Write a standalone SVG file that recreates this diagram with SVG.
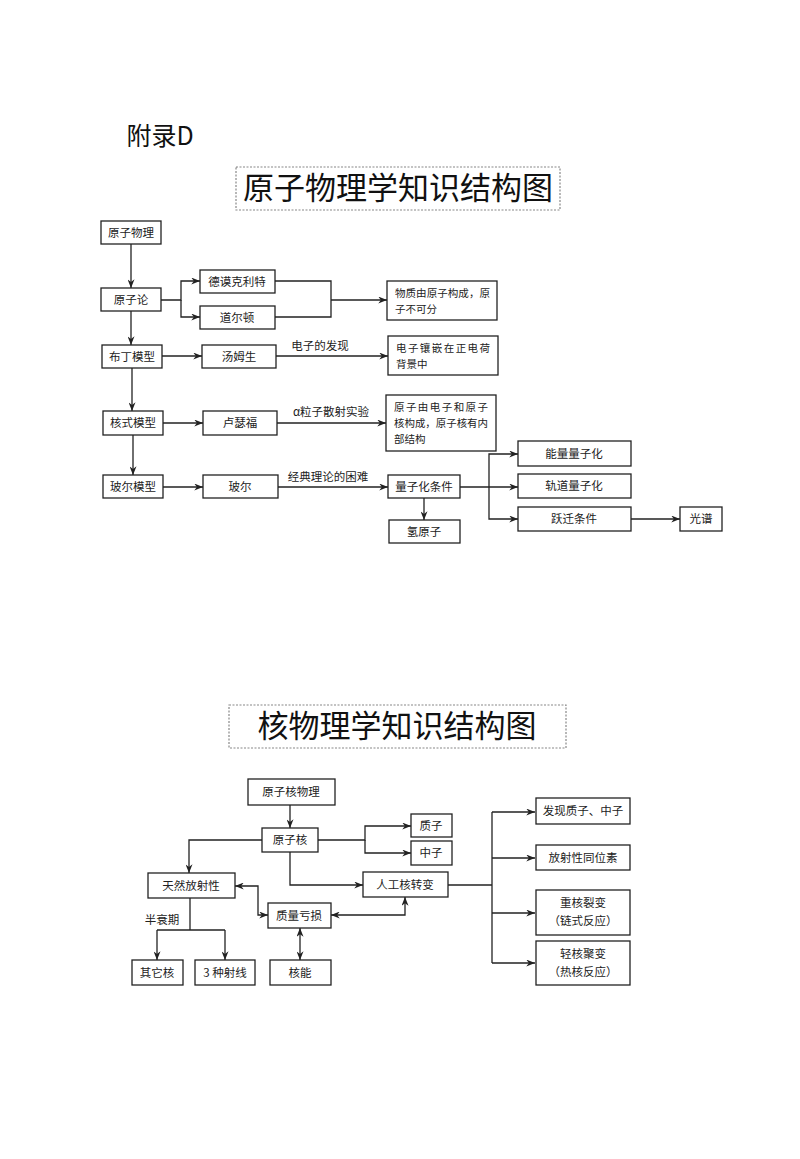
<svg xmlns="http://www.w3.org/2000/svg" width="800" height="1159" viewBox="0 0 800 1159">
<style>
rect.n{fill:#fff;stroke:#222;stroke-width:1.3}
text{font-family:"Noto Sans CJK SC","Liberation Sans",sans-serif;font-size:11.5px;fill:#222;text-anchor:middle}
text.s{text-anchor:start;font-size:10.5px}
.l{fill:none;stroke:#222;stroke-width:1.3}
.t{font-size:31px;fill:#111}
rect.tb{fill:none;stroke:#888;stroke-width:1.2;stroke-dasharray:2 1.5}
</style>
<defs>
<marker id="a" viewBox="0 0 10 8" refX="10" refY="4" markerWidth="9" markerHeight="7" orient="auto-start-reverse" markerUnits="userSpaceOnUse"><path d="M0,0 L10,4 L0,8 L3,4z" fill="#222"/></marker>
</defs>
<rect width="800" height="1159" fill="#fff"/>
<text x="160" y="145" style="font-size:25px;text-anchor:middle;fill:#111">附录D</text>
<rect class="tb" x="236" y="167" width="324" height="43"/>
<text class="t" x="398" y="199">原子物理学知识结构图</text>
<rect class="tb" x="229" y="705" width="337" height="43"/>
<text class="t" x="397" y="737">核物理学知识结构图</text>

<g id="connectors">
<path class="l" d="M131,244V288" marker-end="url(#a)"/>
<path class="l" d="M131,311V345" marker-end="url(#a)"/>
<path class="l" d="M132,368V411" marker-end="url(#a)"/>
<path class="l" d="M133,435V475" marker-end="url(#a)"/>
<path class="l" d="M161,300H181V281H200" marker-end="url(#a)"/>
<path class="l" d="M181,300V317H200" marker-end="url(#a)"/>
<path class="l" d="M275,281H331V317H275"/>
<path class="l" d="M331,300H387" marker-end="url(#a)"/>
<path class="l" d="M162,356H202" marker-end="url(#a)"/>
<path class="l" d="M276,356H388" marker-end="url(#a)"/>
<path class="l" d="M163,423H203" marker-end="url(#a)"/>
<path class="l" d="M277,423H386" marker-end="url(#a)"/>
<path class="l" d="M163,487H203" marker-end="url(#a)"/>
<path class="l" d="M278,487H388" marker-end="url(#a)"/>
<path class="l" d="M424,498V520" marker-end="url(#a)"/>
<path class="l" d="M460,487H518" marker-end="url(#a)"/>
<path class="l" d="M489,487V454H518" marker-end="url(#a)"/>
<path class="l" d="M489,487V519H518" marker-end="url(#a)"/>
<path class="l" d="M631,519H680" marker-end="url(#a)"/>

<path class="l" d="M290,805V828" marker-end="url(#a)"/>
<path class="l" d="M318,840H365V826H411" marker-end="url(#a)"/>
<path class="l" d="M365,840V853H411" marker-end="url(#a)"/>
<path class="l" d="M262,840H189V873" marker-end="url(#a)"/>
<path class="l" d="M290,852V885H363" marker-end="url(#a)"/>
<path class="l" d="M448,885H492"/>
<path class="l" d="M492,812V963"/>
<path class="l" d="M492,812H535" marker-end="url(#a)"/>
<path class="l" d="M492,858H535" marker-end="url(#a)"/>
<path class="l" d="M492,913H535" marker-end="url(#a)"/>
<path class="l" d="M492,963H535" marker-end="url(#a)"/>
<path class="l" d="M235,886H258V915H268" marker-start="url(#a)" marker-end="url(#a)"/>
<path class="l" d="M331,915H405V897" marker-start="url(#a)" marker-end="url(#a)"/>
<path class="l" d="M300,928V960" marker-start="url(#a)" marker-end="url(#a)"/>
<path class="l" d="M190,898V930"/>
<path class="l" d="M157,930H225"/>
<path class="l" d="M157,930V960" marker-end="url(#a)"/>
<path class="l" d="M225,930V960" marker-end="url(#a)"/>
<text x="320" y="350">电子的发现</text>
<text x="331" y="416">α粒子散射实验</text>
<text x="328" y="481">经典理论的困难</text>
<text x="162" y="924">半衰期</text>
</g>

<g id="n1"><rect class="n" x="101" y="221" width="60" height="23"/><text x="131" y="237">原子物理</text></g>
<g id="n2"><rect class="n" x="101" y="288" width="60" height="23"/><text x="131" y="304">原子论</text></g>
<g id="n3"><rect class="n" x="200" y="270" width="75" height="23"/><text x="237" y="286">德谟克利特</text></g>
<g id="n4"><rect class="n" x="200" y="306" width="75" height="23"/><text x="237" y="322">道尔顿</text></g>
<g id="n5"><rect class="n" x="387" y="281" width="110" height="39"/><text class="s" x="395" y="297" textLength="95" lengthAdjust="spacingAndGlyphs">物质由原子构成，原</text><text class="s" x="395" y="313">子不可分</text></g>
<g id="n6"><rect class="n" x="102" y="345" width="60" height="23"/><text x="132" y="361">布丁模型</text></g>
<g id="n7"><rect class="n" x="202" y="345" width="74" height="23"/><text x="239" y="361">汤姆生</text></g>
<g id="n8"><rect class="n" x="388" y="336" width="110" height="39"/><text class="s" x="396" y="352" textLength="94">电子镶嵌在正电荷</text><text class="s" x="396" y="368">背景中</text></g>
<g id="n9"><rect class="n" x="103" y="411" width="60" height="24"/><text x="133" y="427">核式模型</text></g>
<g id="n10"><rect class="n" x="203" y="411" width="74" height="24"/><text x="240" y="427">卢瑟福</text></g>
<g id="n11"><rect class="n" x="386" y="395" width="110" height="56"/><text class="s" x="394" y="411" textLength="94">原子由电子和原子</text><text class="s" x="394" y="427" textLength="94" lengthAdjust="spacingAndGlyphs">核构成，原子核有内</text><text class="s" x="394" y="443">部结构</text></g>
<g id="n12"><rect class="n" x="103" y="475" width="60" height="23"/><text x="133" y="491">玻尔模型</text></g>
<g id="n13"><rect class="n" x="203" y="475" width="75" height="23"/><text x="240" y="491">玻尔</text></g>
<g id="n14"><rect class="n" x="388" y="475" width="72" height="23"/><text x="424" y="491">量子化条件</text></g>
<g id="n15"><rect class="n" x="389" y="520" width="71" height="23"/><text x="424" y="536">氢原子</text></g>
<g id="n16"><rect class="n" x="518" y="441" width="113" height="25"/><text x="574" y="458">能量量子化</text></g>
<g id="n17"><rect class="n" x="518" y="474" width="113" height="24"/><text x="574" y="490">轨道量子化</text></g>
<g id="n18"><rect class="n" x="518" y="507" width="113" height="24"/><text x="574" y="523">跃迁条件</text></g>
<g id="n19"><rect class="n" x="680" y="507" width="42" height="24"/><text x="701" y="523">光谱</text></g>

<g id="m1"><rect class="n" x="248" y="779" width="87" height="26"/><text x="291" y="796">原子核物理</text></g>
<g id="m2"><rect class="n" x="262" y="828" width="56" height="24"/><text x="290" y="844">原子核</text></g>
<g id="m3"><rect class="n" x="411" y="814" width="41" height="23"/><text x="431" y="830">质子</text></g>
<g id="m4"><rect class="n" x="411" y="841" width="41" height="24"/><text x="431" y="857">中子</text></g>
<g id="m5"><rect class="n" x="148" y="873" width="87" height="25"/><text x="191" y="890">天然放射性</text></g>
<g id="m6"><rect class="n" x="363" y="872" width="85" height="25"/><text x="405" y="889">人工核转变</text></g>
<g id="m7"><rect class="n" x="268" y="903" width="63" height="25"/><text x="299" y="920">质量亏损</text></g>
<g id="m8"><rect class="n" x="270" y="960" width="61" height="25"/><text x="300" y="977">核能</text></g>
<g id="m9"><rect class="n" x="132" y="960" width="51" height="25"/><text x="157" y="977">其它核</text></g>
<g id="m10"><rect class="n" x="195" y="960" width="60" height="25"/><text x="225" y="977">3 种射线</text></g>
<g id="m11"><rect class="n" x="536" y="798" width="94" height="26"/><text x="583" y="815">发现质子、中子</text></g>
<g id="m12"><rect class="n" x="536" y="845" width="94" height="25"/><text x="583" y="862">放射性同位素</text></g>
<g id="m13"><rect class="n" x="536" y="890" width="94" height="45"/><text x="583" y="907">重核裂变</text><text x="583" y="925">（链式反应）</text></g>
<g id="m14"><rect class="n" x="536" y="941" width="94" height="44"/><text x="583" y="958">轻核聚变</text><text x="583" y="976">（热核反应）</text></g>
</svg>
